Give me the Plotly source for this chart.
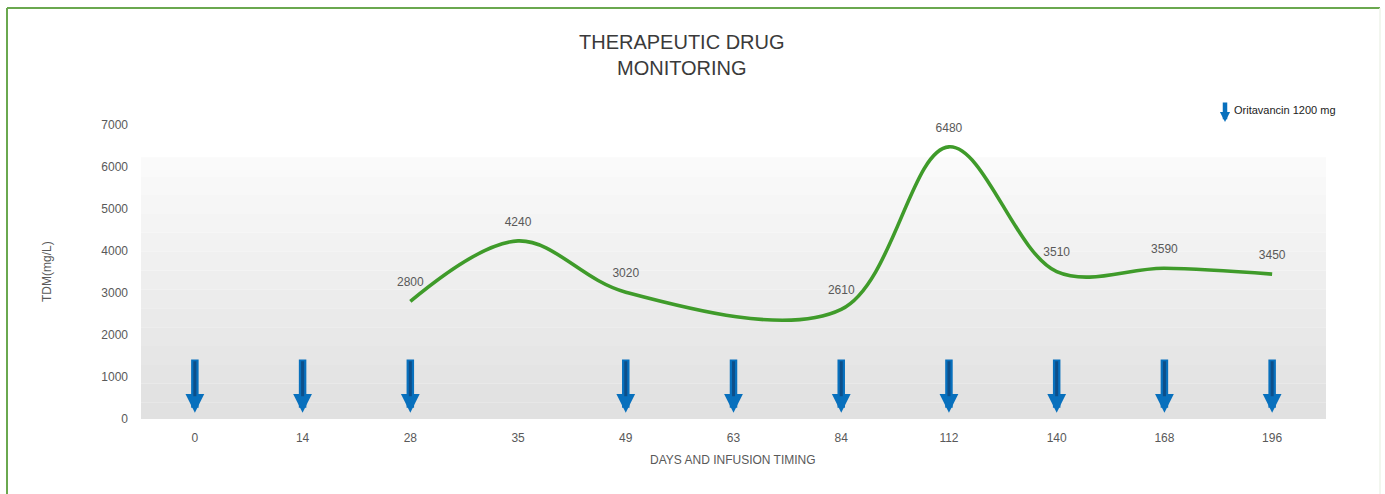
import plotly.graph_objects as go

# ---- data ----
days = ["0", "14", "28", "35", "49", "63", "84", "112", "140", "168", "196"]
tdm_values = [None, None, 2800, 4240, 3020, None, 2610, 6480, 3510, 3590, 3450]
infusion_days = ["0", "14", "28", "49", "63", "84", "112", "140", "168", "196"]
arrow_top = 1450
arrow_tip = 150
y_ticks = [0, 1000, 2000, 3000, 4000, 5000, 6000, 7000]

FONT = "Liberation Sans, Arial, sans-serif"
TXT = "#595959"

idx = list(range(len(days)))
labels = [("" if v is None else str(v)) for v in tdm_values]

fig = go.Figure()
fig.add_trace(go.Scatter(
    x=idx, y=tdm_values, mode="lines+markers+text",
    line=dict(color="#3f9b2a", width=3.6, shape="spline", smoothing=1.0),
    marker=dict(size=18, opacity=0),
    connectgaps=True, cliponaxis=False,
    text=labels, textposition="top center",
    textfont=dict(family=FONT, size=12, color=TXT),
    showlegend=False, hoverinfo="x+y",
))

# background gradient (plot area)
n = 14
top_val = 6230
for i in range(n):
    y0 = -60 + (top_val + 60) * i / n
    y1 = -60 + (top_val + 60) * (i + 1) / n
    g = int(0xe1 + (0xfa - 0xe1) * (i / (n - 1)))
    col = f"rgb({g},{g},{g})"
    fig.add_shape(type="rect", xref="x", yref="y", x0=-0.5, x1=10.5, y0=y0, y1=y1,
                  fillcolor=col, line=dict(width=0), layer="below")

annotations = []
shaft_end = arrow_tip + (arrow_top - arrow_tip) * 0.3
for d in infusion_days:
    i = days.index(d)
    annotations.append(dict(
        x=i, y=arrow_tip, ax=i, ay=arrow_top, xref="x", yref="y", axref="x", ayref="y",
        showarrow=True, arrowhead=2, arrowsize=0.5, arrowwidth=7.5, arrowcolor="#0870bd", text=""))
    annotations.append(dict(
        x=i, y=shaft_end, ax=i, ay=arrow_top - 40, xref="x", yref="y", axref="x", ayref="y",
        showarrow=True, arrowhead=0, arrowwidth=3, arrowcolor="#0d4f8a", text=""))

# title
annotations.append(dict(
    text="THERAPEUTIC DRUG<br>MONITORING", xref="paper", yref="paper",
    x=(682 - 141) / 1185, y=(419 - 55) / 294, showarrow=False,
    font=dict(family=FONT, size=20, color="#3a3a3a"), xanchor="center", yanchor="middle"))
# axis titles
annotations.append(dict(
    text="TDM(mg/L)", xref="paper", yref="paper", x=(47 - 141) / 1185, y=(419 - 272) / 294,
    textangle=-90, showarrow=False, font=dict(family=FONT, size=12, color=TXT),
    xanchor="center", yanchor="middle"))
annotations.append(dict(
    text="DAYS AND INFUSION TIMING", xref="paper", yref="paper", x=(733 - 141) / 1185,
    y=(419 - 460) / 294, showarrow=False, font=dict(family=FONT, size=12, color=TXT),
    xanchor="center", yanchor="middle"))
# legend
annotations.append(dict(
    x=(1225 - 141) / 1185, y=(419 - 122) / 294, xref="paper", yref="paper",
    ax=0, ay=-21, showarrow=True, arrowhead=2, arrowsize=0.45, arrowwidth=4.5,
    arrowcolor="#0870bd", text=""))
annotations.append(dict(
    text="Oritavancin 1200 mg", xref="paper", yref="paper", x=(1232 - 141) / 1185,
    y=(419 - 110) / 294, showarrow=False, font=dict(family=FONT, size=11, color="#222222"),
    xanchor="left", yanchor="middle"))

# frame
shapes_frame = [
    dict(type="line", xref="paper", yref="paper", x0=(7 - 141) / 1185, x1=(7 - 141) / 1185,
         y0=(419 - 8) / 294, y1=(419 - 494) / 294, line=dict(color="#6aa84f", width=2)),
    dict(type="line", xref="paper", yref="paper", x0=(7 - 141) / 1185, x1=(1380 - 141) / 1185,
         y0=(419 - 8) / 294, y1=(419 - 8) / 294, line=dict(color="#6aa84f", width=2)),
    dict(type="line", xref="paper", yref="paper", x0=(1380 - 141) / 1185, x1=(1380 - 141) / 1185,
         y0=(419 - 8) / 294, y1=(419 - 494) / 294, line=dict(color="#eef3ea", width=1.5)),
]
for s in shapes_frame:
    fig.add_shape(**s)

fig.update_layout(
    width=1385, height=494,
    margin=dict(l=141, r=59, t=125, b=75),
    paper_bgcolor="white", plot_bgcolor="white",
    annotations=annotations,
    showlegend=False,
    font=dict(family=FONT, color=TXT),
)
fig.update_xaxes(range=[-0.5, 10.5], tickvals=idx, ticktext=days, showgrid=False,
                 zeroline=False, showline=False, ticks="", ticklabelstandoff=10,
                 tickfont=dict(family=FONT, size=12, color=TXT))
fig.update_yaxes(range=[0, 7000], tickvals=y_ticks, showgrid=False, zeroline=False,
                 showline=False, ticks="", ticklabelstandoff=12,
                 tickfont=dict(family=FONT, size=12, color=TXT))

fig.write_html("out.html", config={"displayModeBar": False},
               post_script="document.body.style.margin='0';document.body.style.overflow='hidden';")
